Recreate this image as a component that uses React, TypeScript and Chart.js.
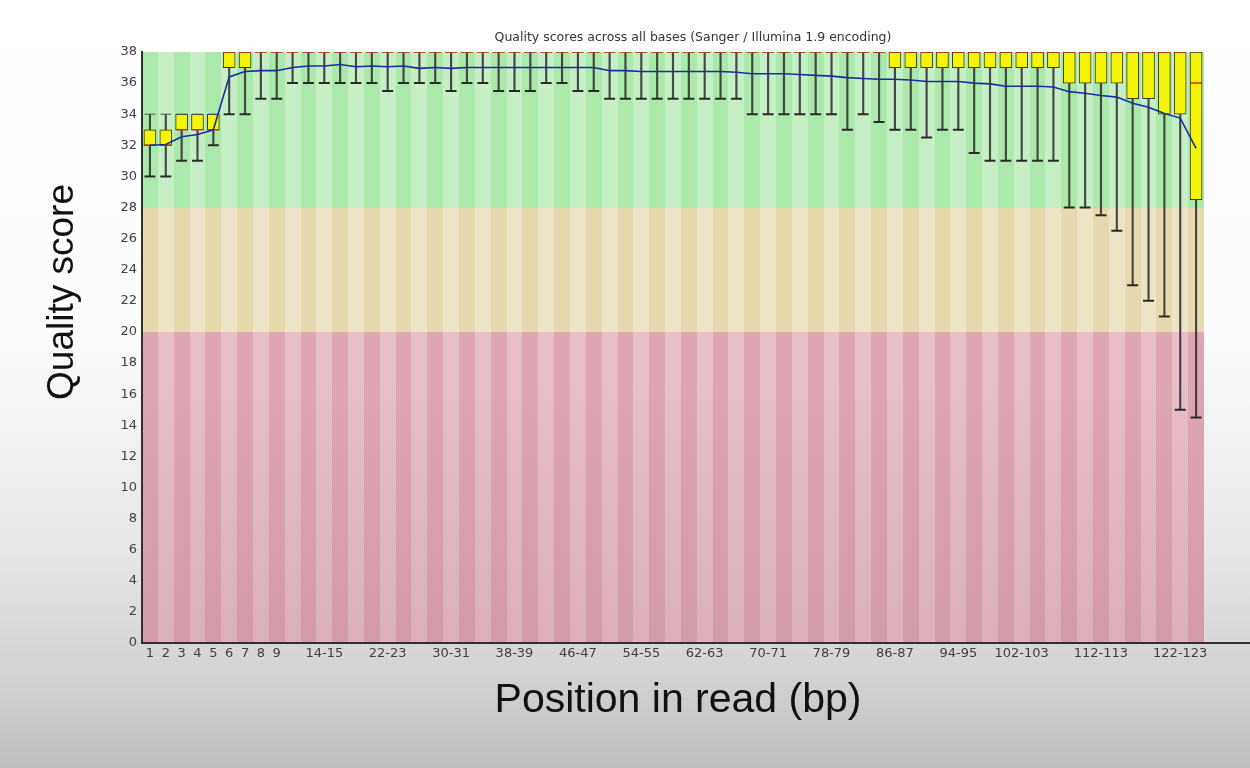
import React, { useEffect, useRef } from "react";
import { Chart, registerables } from "chart.js";

Chart.register(...registerables);

// ---- data ----
const positions = [
  "1", "2", "3", "4", "5", "6", "7", "8", "9",
  "10-11", "12-13", "14-15", "16-17", "18-19", "20-21", "22-23", "24-25", "26-27", "28-29",
  "30-31", "32-33", "34-35", "36-37", "38-39", "40-41", "42-43", "44-45", "46-47", "48-49",
  "50-51", "52-53", "54-55", "56-57", "58-59", "60-61", "62-63", "64-65", "66-67", "68-69",
  "70-71", "72-73", "74-75", "76-77", "78-79", "80-81", "82-83", "84-85", "86-87", "88-89",
  "90-91", "92-93", "94-95", "96-97", "98-99", "100-101", "102-103", "104-105", "106-107", "108-109",
  "110-111", "112-113", "114-115", "116-117", "118-119", "120-121", "122-123", "124-125",
];

const shownTickLabels = [
  "1", "2", "3", "4", "5", "6", "7", "8", "9",
  "14-15", "22-23", "30-31", "38-39", "46-47", "54-55", "62-63", "70-71", "78-79",
  "86-87", "94-95", "102-103", "112-113", "122-123",
];

// 10th percentile (lower whisker)
const whiskerLow = [
  30, 30, 31, 31, 32, 34, 34, 35, 35, 36,
  36, 36, 36, 36, 36, 35.5, 36, 36, 36, 35.5,
  36, 36, 35.5, 35.5, 35.5, 36, 36, 35.5, 35.5, 35,
  35, 35, 35, 35, 35, 35, 35, 35, 34, 34,
  34, 34, 34, 34, 33, 34, 33.5, 33, 33, 32.5,
  33, 33, 31.5, 31, 31, 31, 31, 31, 28, 28,
  27.5, 26.5, 23, 22, 21, 15, 14.5,
];

// 90th percentile (upper whisker)
const whiskerHigh = [
  34, 34, 34, 34, 34, 38, 38, 38, 38, 38,
  38, 38, 38, 38, 38, 38, 38, 38, 38, 38,
  38, 38, 38, 38, 38, 38, 38, 38, 38, 38,
  38, 38, 38, 38, 38, 38, 38, 38, 38, 38,
  38, 38, 38, 38, 38, 38, 38, 38, 38, 38,
  38, 38, 38, 38, 38, 38, 38, 38, 38, 38,
  38, 38, 38, 38, 38, 38, 38,
];

const lowerQuartile = [
  32, 32, 33, 33, 33, 37, 37, 38, 38, 38,
  38, 38, 38, 38, 38, 38, 38, 38, 38, 38,
  38, 38, 38, 38, 38, 38, 38, 38, 38, 38,
  38, 38, 38, 38, 38, 38, 38, 38, 38, 38,
  38, 38, 38, 38, 38, 38, 38, 37, 37, 37,
  37, 37, 37, 37, 37, 37, 37, 37, 36, 36,
  36, 36, 35, 35, 34, 34, 28.5,
];

const upperQuartile = [
  33, 33, 34, 34, 34, 38, 38, 38, 38, 38,
  38, 38, 38, 38, 38, 38, 38, 38, 38, 38,
  38, 38, 38, 38, 38, 38, 38, 38, 38, 38,
  38, 38, 38, 38, 38, 38, 38, 38, 38, 38,
  38, 38, 38, 38, 38, 38, 38, 38, 38, 38,
  38, 38, 38, 38, 38, 38, 38, 38, 38, 38,
  38, 38, 38, 38, 38, 38, 38,
];

const medians = [
  32, 32, 33, 33, 33, 38, 38, 38, 38, 38,
  38, 38, 38, 38, 38, 38, 38, 38, 38, 38,
  38, 38, 38, 38, 38, 38, 38, 38, 38, 38,
  38, 38, 38, 38, 38, 38, 38, 38, 38, 38,
  38, 38, 38, 38, 38, 38, 38, 38, 38, 38,
  38, 38, 38, 38, 38, 38, 38, 38, 38, 38,
  38, 38, 38, 38, 38, 38, 36,
];

const means = [
  32.0, 32.05, 32.55, 32.7, 33.0, 36.4, 36.75, 36.8, 36.8, 37.0,
  37.1, 37.1, 37.2, 37.05, 37.1, 37.05, 37.1, 36.95, 37.0, 36.95,
  37.0, 37.0, 37.0, 37.0, 37.0, 37.0, 37.0, 37.0, 37.0, 36.8,
  36.8, 36.75, 36.75, 36.75, 36.75, 36.75, 36.75, 36.7, 36.6, 36.6,
  36.6, 36.55, 36.5, 36.45, 36.35, 36.3, 36.25, 36.25, 36.2, 36.1,
  36.1, 36.1, 36.0, 35.95, 35.8, 35.8, 35.8, 35.75, 35.45, 35.35,
  35.2, 35.1, 34.7, 34.45, 34.05, 33.75, 31.8,
];

// quality zone boundaries (bad / reasonable / good)
const zoneBounds = [0, 20, 28, 38];
const yMin = 0;
const yMax = 38;
const yStep = 2;

const chartTitle = "Quality scores across all bases (Sanger / Illumina 1.9 encoding)";
const yTitle = "Quality score";
const xTitle = "Position in read (bp)";

// ---- styles ----
const zoneColors = [
  ["rgb(222,166,178)", "rgb(232,190,200)"],
  ["rgb(230,217,174)", "rgb(237,227,197)"],
  ["rgb(170,233,170)", "rgb(198,239,198)"],
];

const fastqcPlugin = {
  id: "fastqcDecor",
  beforeDraw(chart: any) {
    const { ctx, chartArea, scales } = chart;
    const xs = scales.x;
    const ys = scales.y;
    const n = positions.length;
    const w = (chartArea.right - chartArea.left) / n;
    ctx.save();
    for (let z = 0; z < zoneBounds.length - 1; z++) {
      const yTop = Math.round(ys.getPixelForValue(zoneBounds[z + 1]));
      const yBot = Math.round(ys.getPixelForValue(zoneBounds[z]));
      for (let i = 0; i < n; i++) {
        const cx = xs.getPixelForValue(i);
        const x0 = Math.round(cx - w / 2);
        const x1 = Math.round(cx + w / 2);
        ctx.fillStyle = zoneColors[z][i % 2];
        ctx.fillRect(x0, yTop, x1 - x0, yBot - yTop);
      }
    }
    // soft darkening toward the bottom, like the reference frame
    const g = ctx.createLinearGradient(0, chartArea.top, 0, chartArea.bottom);
    g.addColorStop(0, "rgba(0,0,0,0)");
    g.addColorStop(0.55, "rgba(0,0,0,0)");
    g.addColorStop(1, "rgba(60,0,20,0.07)");
    ctx.fillStyle = g;
    ctx.fillRect(chartArea.left, chartArea.top, chartArea.right - chartArea.left, chartArea.bottom - chartArea.top);
    ctx.restore();
  },
  afterDraw(chart: any) {
    const { ctx, chartArea, width } = chart;
    ctx.save();
    // x axis line continues to the right edge, as in FastQC
    ctx.strokeStyle = "#303030";
    ctx.lineWidth = 2;
    ctx.beginPath();
    ctx.moveTo(chartArea.right, chartArea.bottom);
    ctx.lineTo(width, chartArea.bottom);
    ctx.stroke();

    // chart title
    ctx.fillStyle = "#333";
    ctx.font = "12.5px 'DejaVu Sans'";
    ctx.textAlign = "center";
    ctx.textBaseline = "alphabetic";
    ctx.fillText(chartTitle, (chartArea.left + chartArea.right) / 2 + 20, chartArea.top - 11);

    // y title
    ctx.fillStyle = "#111";
    ctx.font = "37px 'Liberation Sans'";
    ctx.translate(73, 292);
    ctx.rotate(-Math.PI / 2);
    ctx.textAlign = "center";
    ctx.fillText(yTitle, 0, 0);
    ctx.setTransform(1, 0, 0, 1, 0, 0);

    // x title
    ctx.font = "41px 'Liberation Sans'";
    ctx.textAlign = "center";
    ctx.fillText(xTitle, (chartArea.left + chartArea.right) / 2 + 5, chartArea.bottom + 69);
    ctx.restore();
  },
};

export default function App() {
  const canvasRef = useRef<HTMLCanvasElement | null>(null);

  useEffect(() => {
    if (!canvasRef.current) return;
    const boxes = lowerQuartile.map((q, i) => (q < upperQuartile[i] ? [q, upperQuartile[i]] : null));
    const whiskers = whiskerLow.map((lo, i) => [lo, whiskerHigh[i]]);
    const tickFont = { family: "'DejaVu Sans'", size: 13 };

    const chart = new Chart(canvasRef.current, {
      type: "bar",
      data: {
        labels: positions,
        datasets: [
          {
            type: "bar",
            label: "10-90%",
            data: whiskers as any,
            backgroundColor: "rgba(45,45,45,0.85)",
            borderWidth: 0,
            barThickness: 1.5,
            grouped: false,
            order: 5,
          } as any,
          {
            type: "bar",
            label: "25-75%",
            data: boxes as any,
            backgroundColor: "rgb(244,244,8)",
            borderColor: "#3b3b14",
            borderWidth: 1,
            borderSkipped: false,
            barThickness: 12,
            grouped: false,
            order: 4,
          } as any,
          {
            type: "line",
            label: "lower whisker",
            data: whiskerLow,
            showLine: false,
            pointStyle: "line",
            pointRadius: 5.5,
            pointBorderWidth: 2,
            pointBorderColor: "#2a2a2a",
            pointBackgroundColor: "#2a2a2a",
            order: 3,
          },
          {
            type: "line",
            label: "upper whisker",
            data: whiskerHigh,
            showLine: false,
            pointStyle: "line",
            pointRadius: 5.5,
            pointBorderWidth: 1,
            pointBorderColor: "#555",
            pointBackgroundColor: "#555",
            order: 3,
          },
          {
            type: "line",
            label: "median",
            data: medians,
            showLine: false,
            pointStyle: "line",
            pointRadius: 6,
            pointBorderWidth: 1.5,
            pointBorderColor: "rgb(205,45,30)",
            pointBackgroundColor: "rgb(205,45,30)",
            order: 2,
          },
          {
            type: "line",
            label: "mean",
            data: means,
            borderColor: "rgb(25,45,165)",
            borderWidth: 1.6,
            pointRadius: 0,
            tension: 0,
            fill: false,
            order: 1,
          },
        ],
      },
      options: {
        responsive: false,
        animation: false,
        devicePixelRatio: 1,
        events: [],
        layout: { padding: { left: 0, top: 52, right: 46, bottom: 0 } },
        plugins: {
          legend: { display: false },
          tooltip: { enabled: false },
          title: { display: false },
        },
        scales: {
          x: {
            type: "category",
            offset: true,
            grid: { display: false, drawTicks: false },
            border: { display: true, color: "#303030", width: 2 },
            ticks: {
              autoSkip: false,
              maxRotation: 0,
              minRotation: 0,
              padding: 3,
              color: "#404040",
              font: tickFont,
              callback: (_v: any, index: number) =>
                shownTickLabels.includes(positions[index]) ? positions[index] : "",
            },
            afterFit: (s: any) => {
              s.height = 125;
            },
          },
          y: {
            min: yMin,
            max: yMax,
            grid: { display: false, drawTicks: false },
            border: { display: true, color: "#303030", width: 2 },
            ticks: { stepSize: yStep, padding: 5, color: "#404040", font: tickFont },
            afterFit: (s: any) => {
              s.width = 142;
            },
          },
        },
      } as any,
      plugins: [fastqcPlugin],
    });
    return () => chart.destroy();
  }, []);

  return (
    <div
      style={{
        position: "fixed",
        left: 0,
        top: 0,
        width: 1250,
        height: 768,
        background:
          "linear-gradient(to bottom, #ffffff 0%, #fbfbfb 45%, #e6e6e6 72%, #d2d2d2 88%, #bebebe 100%)",
      }}
    >
      <canvas ref={canvasRef} width={1250} height={768} style={{ display: "block" }} />
    </div>
  );
}
